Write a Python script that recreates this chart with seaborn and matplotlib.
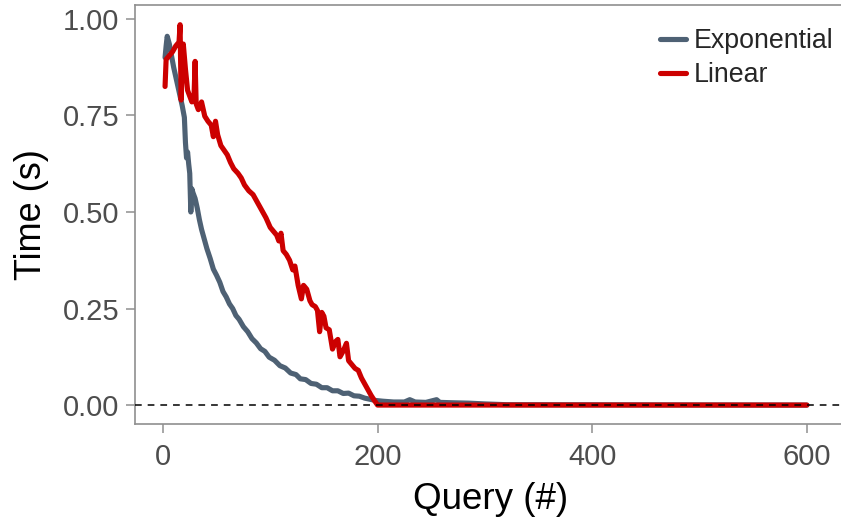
import matplotlib
matplotlib.use("Agg")
import matplotlib.pyplot as plt
import pandas as pd
import seaborn as sns

# ---- data ----
series_names = ["Exponential", "Linear"]
series_colors = ["#4E6174", "#CC0000"]

exp_query = [2, 3, 4, 6, 8, 10, 12, 14, 16, 18, 20, 21, 22, 23, 24, 25, 26, 27, 28, 30,
             32, 34, 36, 38, 41, 44, 47, 50, 53, 56, 59, 62, 65, 68, 71, 75, 79, 83, 87,
             91, 95, 99, 104, 109, 114, 119, 124, 128, 133, 138, 143, 148, 153, 158, 163,
             168, 173, 178, 183, 188, 193, 198, 205, 215, 225, 230, 235, 245, 255, 258,
             270, 285, 300, 320, 600]
exp_time = [0.900, 0.930, 0.955, 0.935, 0.905, 0.875, 0.850, 0.825, 0.800, 0.775, 0.745,
            0.680, 0.640, 0.655, 0.625, 0.600, 0.500, 0.560, 0.550, 0.535, 0.510, 0.480,
            0.455, 0.435, 0.405, 0.380, 0.352, 0.336, 0.318, 0.294, 0.280, 0.262, 0.250,
            0.232, 0.222, 0.203, 0.190, 0.172, 0.161, 0.146, 0.139, 0.124, 0.116, 0.102,
            0.096, 0.083, 0.079, 0.068, 0.066, 0.056, 0.054, 0.045, 0.045, 0.037, 0.037,
            0.030, 0.031, 0.024, 0.023, 0.018, 0.015, 0.012, 0.010, 0.008, 0.008, 0.014,
            0.008, 0.007, 0.014, 0.007, 0.006, 0.005, 0.003, 0.001, 0.000]

lin_query = [2, 3, 6, 9, 12, 15, 16, 17, 18, 19, 21, 23, 25, 27, 29, 30, 31, 33, 36, 39,
             42, 45, 47, 49, 51, 54, 57, 60, 63, 66, 70, 73, 76, 80, 84, 87, 90, 93, 96,
             100, 103, 106, 108, 110, 112, 115, 118, 121, 123, 126, 129, 131, 134, 137,
             139, 142, 144, 146, 148, 150, 152, 155, 158, 161, 163, 165, 168, 171, 173,
             176, 179, 182, 185, 188, 191, 194, 197, 200, 600]
lin_time = [0.825, 0.895, 0.905, 0.915, 0.930, 0.940, 0.985, 0.790, 0.880, 0.935, 0.870,
            0.815, 0.800, 0.785, 0.800, 0.890, 0.780, 0.765, 0.785, 0.748, 0.735, 0.725,
            0.695, 0.735, 0.700, 0.672, 0.660, 0.648, 0.628, 0.612, 0.600, 0.588, 0.570,
            0.555, 0.545, 0.530, 0.515, 0.500, 0.485, 0.460, 0.450, 0.440, 0.425, 0.445,
            0.400, 0.390, 0.375, 0.350, 0.360, 0.310, 0.275, 0.310, 0.300, 0.270, 0.260,
            0.255, 0.245, 0.190, 0.240, 0.230, 0.200, 0.195, 0.145, 0.165, 0.170, 0.125,
            0.140, 0.160, 0.115, 0.105, 0.095, 0.090, 0.070, 0.055, 0.040, 0.025, 0.012,
            0.000, 0.000]

x_ticks = [0, 200, 400, 600]
y_ticks = [0.00, 0.25, 0.50, 0.75, 1.00]
y_tick_labels = ["0.00", "0.25", "0.50", "0.75", "1.00"]

# ---- build table ----
df = pd.concat([
    pd.DataFrame({"query": exp_query, "time": exp_time, "method": series_names[0]}),
    pd.DataFrame({"query": lin_query, "time": lin_time, "method": series_names[1]}),
], ignore_index=True)

sns.set_theme(style="white")
plt.rcParams["font.family"] = ["Liberation Sans", "DejaVu Sans"]

W, H = 841, 519
fig = plt.figure(figsize=(W / 100, H / 100), dpi=100)
ax_w_px = W - 135 + 6
ax = fig.add_axes([135 / W, 1 - 424 / H, ax_w_px / W, (424 - 5) / H])

sns.lineplot(data=df, x="query", y="time", hue="method",
             hue_order=series_names,
             palette=dict(zip(series_names, series_colors)),
             linewidth=3.7, estimator=None, sort=False, ax=ax)

ax.axhline(0, color="black", lw=1.1, ls=(0, (4.4, 3.9)), zorder=5)

px_per_unit = 644 / 600
ax.set_xlim(-26, -26 + ax_w_px / px_per_unit)
ax.set_ylim(-0.049, 1.036)
ax.set_xticks(x_ticks)
ax.set_yticks(y_ticks)
ax.set_yticklabels(y_tick_labels)

spine_col = "#8F8F8F"
for side in ["left", "bottom", "top"]:
    ax.spines[side].set_visible(True)
    ax.spines[side].set_color(spine_col)
    ax.spines[side].set_linewidth(1.2)
ax.spines["right"].set_visible(False)

ax.tick_params(axis="both", which="both", length=6.5, width=1.1, color=spine_col,
               labelcolor="#4D4D4D", labelsize=21, pad=5,
               left=True, bottom=True, top=False, right=False)
ax.tick_params(axis="x", pad=7)

ax.set_xlabel("Query (#)", fontsize=26.5, color="black", labelpad=8)
ax.set_ylabel("Time (s)", fontsize=26, color="black", labelpad=10)

handles, labels = ax.get_legend_handles_labels()
leg = ax.legend(handles, labels, loc="upper right", frameon=False, fontsize=19.3,
                handlelength=1.0, handletextpad=0.28, labelspacing=0.3,
                borderpad=0, bbox_to_anchor=(847 / W, 1 - 15 / H),
                bbox_transform=fig.transFigure)
for line in leg.get_lines():
    line.set_linewidth(3.7)

fig.savefig("out.png", dpi=100)
